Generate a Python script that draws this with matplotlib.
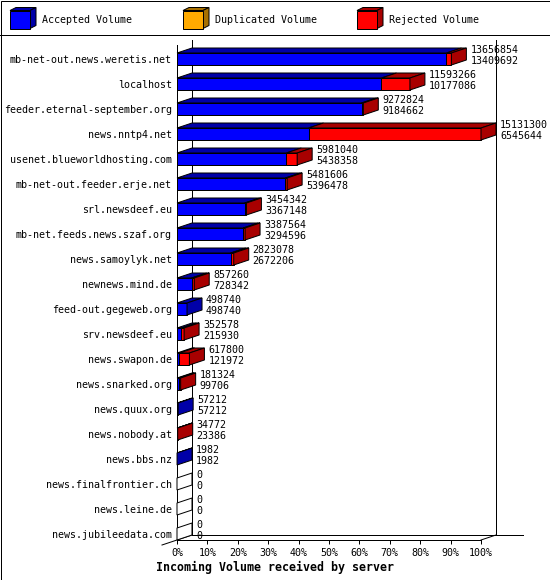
import matplotlib
matplotlib.use("Agg")
import matplotlib.pyplot as plt
from matplotlib.patches import Polygon, Rectangle

# data
servers = [
    "mb-net-out.news.weretis.net", "localhost", "feeder.eternal-september.org",
    "news.nntp4.net", "usenet.blueworldhosting.com", "mb-net-out.feeder.erje.net",
    "srl.newsdeef.eu", "mb-net.feeds.news.szaf.org", "news.samoylyk.net",
    "newnews.mind.de", "feed-out.gegeweb.org", "srv.newsdeef.eu", "news.swapon.de",
    "news.snarked.org", "news.quux.org", "news.nobody.at", "news.bbs.nz",
    "news.finalfrontier.ch", "news.leine.de", "news.jubileedata.com",
]
total = [13656854, 11593266, 9272824, 15131300, 5981040, 5481606, 3454342, 3387564,
         2823078, 857260, 498740, 352578, 617800, 181324, 57212, 34772, 1982, 0, 0, 0]
accepted = [13409692, 10177086, 9184662, 6545644, 5438358, 5396478, 3367148, 3294596,
            2672206, 728342, 498740, 215930, 121972, 99706, 57212, 23386, 1982, 0, 0, 0]
pct_ticks = [0, 10, 20, 30, 40, 50, 60, 70, 80, 90, 100]
legend_names = ["Accepted Volume", "Duplicated Volume", "Rejected Volume"]

W, H = 550, 580
BLUE, BLUE_D = "#0000ff", "#0000a8"
RED, RED_D = "#ff0000", "#a80000"
ORANGE, ORANGE_D = "#ffaa00", "#a87000"
MONO = "DejaVu Sans Mono"
LW = 0.72
FS = 7.2

fig = plt.figure(figsize=(W / 100, H / 100), dpi=100)

# background axes in pixel units: border, legend, title
bg = fig.add_axes([0, 0, 1, 1])
bg.set_xlim(0, W)
bg.set_ylim(H, 0)
bg.axis("off")
bg.add_patch(Rectangle((0.5, 0.5), W - 1, H - 1, fill=False, ec="black", lw=LW))
bg.plot([0, W], [34.5, 34.5], color="black", lw=LW)


def legend_cube(x, y, front, dark):
    w, h, ox, oy = 20, 18, 6, 3
    bg.add_patch(Polygon([(x, y), (x + w, y), (x + w + ox, y - oy), (x + ox, y - oy)],
                         fc=dark, ec="black", lw=LW))
    bg.add_patch(Polygon([(x + w, y), (x + w + ox, y - oy), (x + w + ox, y + h - oy), (x + w, y + h)],
                         fc=dark, ec="black", lw=LW))
    bg.add_patch(Rectangle((x, y), w, h, fc=front, ec="black", lw=LW))


for lx, name, (c, cd) in zip([10, 183, 357], legend_names,
                             [(BLUE, BLUE_D), (ORANGE, ORANGE_D), (RED, RED_D)]):
    legend_cube(lx, 10.5, c, cd)
    bg.text(lx + 32, 20, name, family=MONO, fontsize=FS, va="center", ha="left")

bg.text(275, 567, "Incoming Volume received by server", family=MONO, fontsize=8.4,
        fontweight="bold", ha="center", va="center")

# plot axes: x in percent of the largest total, y in rows
px_pct = 3.04          # pixels per percent
row_px = 25.0
ax = fig.add_axes([177 / W, (H - 540) / H, (523 - 177) / W, 500 / H])
xmax = 346 / px_pct
ytop = (40 - 59) / row_px
ybot = (540 - 59) / row_px
ax.set_xlim(0, xmax)
ax.set_ylim(ybot, ytop)
ax.patch.set_alpha(0)

dx = 15 / px_pct
dy = 5 / row_px
half = 6 / row_px

for s in ["top", "right"]:
    ax.spines[s].set_visible(False)
ax.spines["bottom"].set_bounds(0, 100)
ax.spines["left"].set_bounds(ybot, (45 - 59) / row_px)
for s in ["bottom", "left"]:
    ax.spines[s].set_linewidth(LW)
    ax.spines[s].set_zorder(1)

ax.set_xticks(pct_ticks)
ax.set_xticklabels([f"{p}%" for p in pct_ticks], family=MONO, fontsize=FS)
ax.tick_params(axis="x", direction="out", length=3, width=LW, pad=2.5)
ax.set_yticks(range(len(servers)))
ax.set_yticklabels(servers, family=MONO, fontsize=FS)
ax.tick_params(axis="y", length=0, pad=3.6)

# back wall lines, kept behind the bars
yb = ybot - dy
wall = dict(color="black", lw=LW, clip_on=False, zorder=0.5)
ax.plot([dx, dx], [yb, ytop], **wall)
ax.plot([100 + dx, 100 + dx], [yb, ytop], **wall)
ax.plot([dx, xmax], [yb, yb], **wall)
ax.plot([-dx, dx], [ybot + dy, yb], **wall)
ax.plot([100, 100 + dx], [ybot, yb], **wall)

mx = max(total)
for i, (t, a) in enumerate(zip(total, accepted)):
    pt = t / mx * 100
    pa = a / mx * 100
    top, bot = i - half, i + half
    segs = [(0, pa, BLUE, BLUE_D)]
    if pt > pa:
        segs.append((pa, pt, RED, RED_D))
    for x0, x1, c, cd in segs:
        if x1 > x0:
            ax.add_patch(Polygon([(x0, top), (x1, top), (x1 + dx, top - dy), (x0 + dx, top - dy)],
                                 fc=cd, ec="black", lw=LW, clip_on=False, zorder=2))
            ax.add_patch(Rectangle((x0, top), x1 - x0, bot - top, fc=c, ec="black", lw=LW,
                                   clip_on=False, zorder=2))
    side_c = segs[-1][3] if t > 0 else "white"
    x1 = pt
    ax.add_patch(Polygon([(x1, top), (x1 + dx, top - dy), (x1 + dx, bot - dy), (x1, bot)],
                         fc=side_c, ec="black", lw=LW, clip_on=False, zorder=2))
    tx = pt + dx + 4 / px_pct
    ax.text(tx, i - 0.35, str(t), family=MONO, fontsize=FS, va="center", ha="left")
    ax.text(tx, i + 0.07, str(a), family=MONO, fontsize=FS, va="center", ha="left")

fig.savefig("out.png", dpi=100)
